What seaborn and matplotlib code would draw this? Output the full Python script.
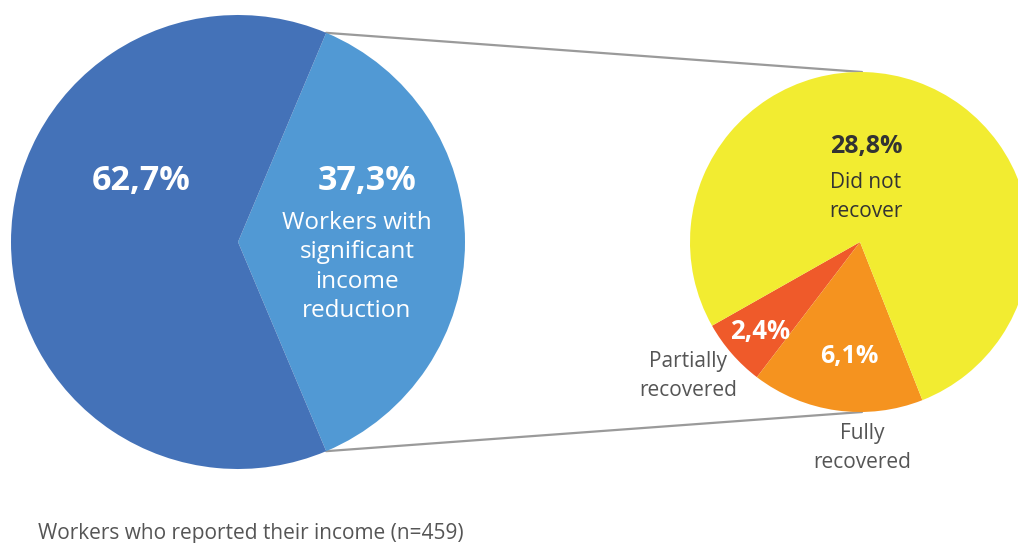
import numpy as np
import matplotlib
matplotlib.use("Agg")
import matplotlib.pyplot as plt
import seaborn as sns

# Share of workers who reported their income (n=459)
outer_labels = ["Workers with\nsignificant\nincome\nreduction", ""]
outer_values = [37.3, 62.7]
outer_colors = ["#5199D4", "#4472B8"]

# Breakdown of the workers with significant income reduction
inner_labels = ["Partially\nrecovered", "Fully\nrecovered", "Did not\nrecover"]
inner_values = [2.4, 6.1, 28.8]
inner_colors = ["#EF5A2A", "#F5931F", "#F2EC31"]

footer = "Workers who reported their income (n=459)"

sns.set_theme(style="white")
plt.rcParams["font.family"] = ["Open Sans", "DejaVu Sans"]

W, H = 1018, 543
fig = plt.figure(figsize=(W / 100, H / 100), dpi=100)
ax = fig.add_axes([0, 0, 1, 1])
ax.set_xlim(0, W)
ax.set_ylim(0, H)
ax.set_aspect("equal")
ax.axis("off")


def pct(v):
    return f"{v:.1f}%".replace(".", ",")


# Main pie: the highlighted slice is centred on the right-hand side
big_c, big_r = (238, H - 242), 227
half = 360 * outer_values[0] / sum(outer_values) / 2
ax.pie(outer_values, colors=outer_colors, startangle=-half, counterclock=True,
       center=big_c, radius=big_r, frame=True,
       wedgeprops=dict(linewidth=0))

# Exploded pie of the highlighted slice
small_c, small_r = (860, H - 242), 170
ax.pie(inner_values, colors=inner_colors, startangle=-150.5, counterclock=True,
       center=small_c, radius=small_r, frame=True,
       wedgeprops=dict(linewidth=0))
ax.set_xlim(0, W)
ax.set_ylim(0, H)
ax.axis("off")

# Connector lines between the two pies
for sgn in (1, -1):
    a = np.deg2rad(sgn * half)
    p0 = (big_c[0] + big_r * np.cos(a), big_c[1] + big_r * np.sin(a))
    p1 = (small_c[0] + 2, small_c[1] + sgn * small_r)
    ax.plot([p0[0], p1[0]], [p0[1], p1[1]], color="#9a9a9a", lw=1.6,
            zorder=0.5, solid_capstyle="round")

white = "white"
dark = "#333333"
grey = "#555555"

# Labels on the main pie
ax.text(141, H - 181, pct(outer_values[1]), color=white, fontsize=24.5,
        fontweight="bold", ha="center", va="center")
ax.text(367, H - 181, pct(outer_values[0]), color=white, fontsize=24.5,
        fontweight="bold", ha="center", va="center")
ax.text(357, H - 267, outer_labels[0], color=white, fontsize=17.5,
        ha="center", va="center", linespacing=1.31)

# Labels on the breakdown pie
ax.text(866, H - 146, pct(inner_values[2]), color=dark, fontsize=18,
        fontweight="bold", ha="center", va="center")
ax.text(866, H - 197, inner_labels[2], color=dark, fontsize=15,
        ha="center", va="center", linespacing=1.5)
ax.text(760, H - 332, pct(inner_values[0]), color=white, fontsize=18.5,
        fontweight="bold", ha="center", va="center")
ax.text(849, H - 356, pct(inner_values[1]), color=white, fontsize=18,
        fontweight="bold", ha="center", va="center")
ax.text(688, H - 375.5, inner_labels[0], color=grey, fontsize=15,
        ha="center", va="center", linespacing=1.5)
ax.text(862, H - 447.5, inner_labels[1], color=grey, fontsize=15,
        ha="center", va="center", linespacing=1.5)

ax.text(38, H - 533, footer, color=grey, fontsize=15, ha="left",
        va="center")

fig.savefig("out.png", dpi=100, facecolor="white")
